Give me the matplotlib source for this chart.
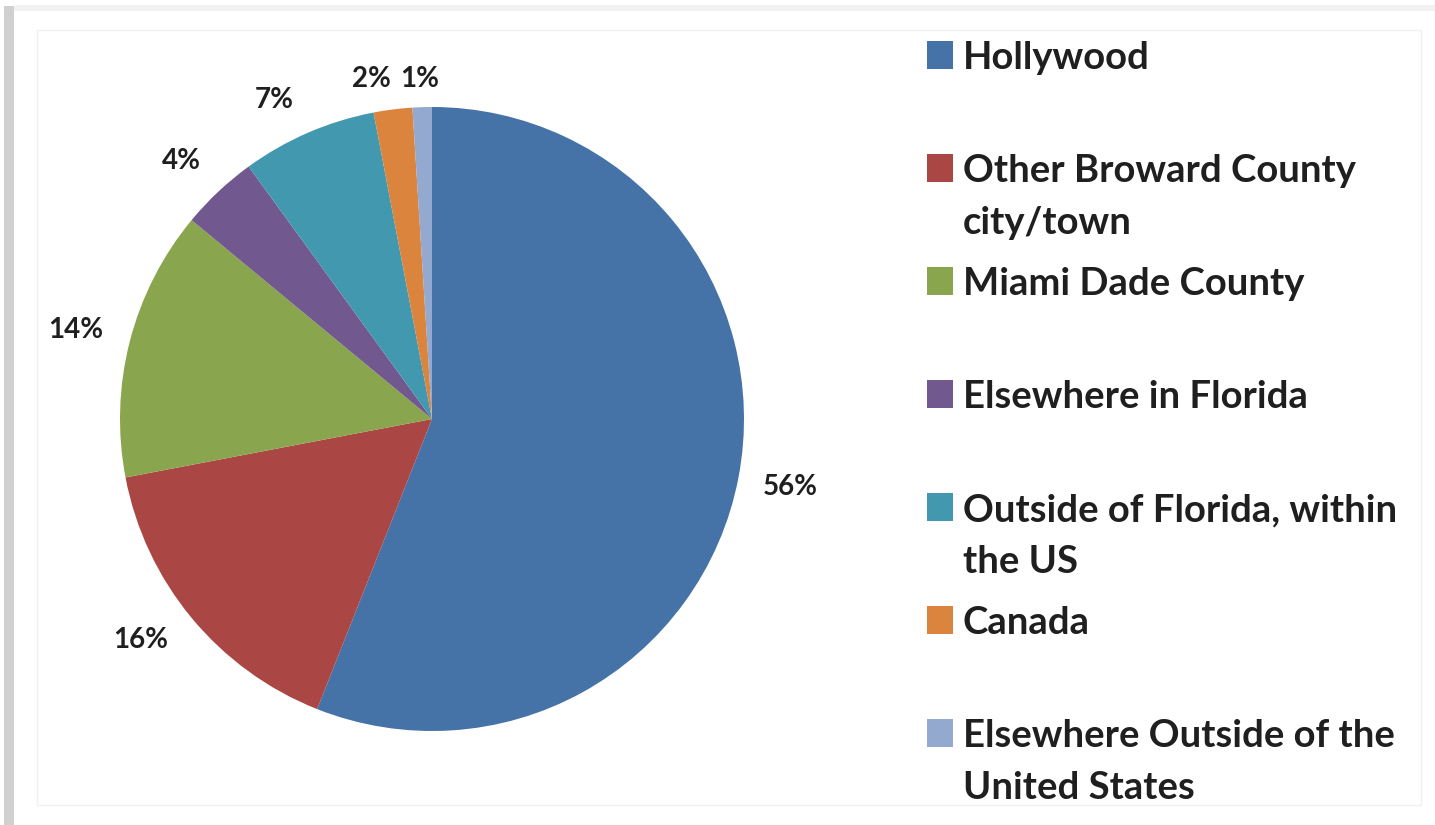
import matplotlib
matplotlib.use("Agg")
import matplotlib.pyplot as plt
from matplotlib.patches import Rectangle
import numpy as np

categories = ["Hollywood", "Other Broward County\ncity/town", "Miami Dade County",
              "Elsewhere in Florida", "Outside of Florida, within\nthe US", "Canada",
              "Elsewhere Outside of the\nUnited States"]
values = [56, 16, 14, 4, 7, 2, 1]
colors = ["#4572A7", "#AA4643", "#89A54E", "#71588F", "#4198AF", "#DB843D", "#93A9CF"]
label_dist = [1.17, 1.18, 1.18, 1.16, 1.15, 1.10, 1.09]
label_shift = [(0, 0), (-8, 14), (0, -3), (-3, -6), (-15, -10), (-18, 0), (-2, 0)]

W, H = 1435, 825
fig = plt.figure(figsize=(W / 100, H / 100), dpi=100)
fig.patch.set_facecolor("white")
font = "Lato"

# frame decoration
fig.add_artist(Rectangle((4 / W, 0), 10 / W, 1 - 6 / H, transform=fig.transFigure,
                         facecolor="#d0d0d0", edgecolor="none"))
fig.add_artist(Rectangle((14 / W, 1 - 11 / H), 1 - 14 / W, 6 / H, transform=fig.transFigure,
                         facecolor="#f2f2f2", edgecolor="none"))
fig.add_artist(Rectangle((37 / W, 20 / H), (1421 - 37) / W, (795 - 20) / H, transform=fig.transFigure,
                         facecolor="none", edgecolor="#f0f0f0", lw=1))

cx, cy, r = 432, 419, 312
ax = fig.add_axes([(cx - r) / W, (H - cy - r) / H, 2 * r / W, 2 * r / H])
wedges, _ = ax.pie(values, colors=colors, startangle=90, counterclock=False,
                   wedgeprops=dict(linewidth=0))
ax.set_xlim(-1, 1)
ax.set_ylim(-1, 1)
ax.set_aspect("equal")
ax.axis("off")

for w, v, d, s in zip(wedges, values, label_dist, label_shift):
    ang = np.deg2rad((w.theta1 + w.theta2) / 2)
    ax.annotate(f"{v}%", (d * np.cos(ang), d * np.sin(ang)), xytext=(s[0] * 0.72, s[1] * 0.72),
                textcoords="offset points", ha="center", va="center",
                fontsize=20, family=font, fontweight="bold", color="#1f1f1f",
                annotation_clip=False)

# legend
y0 = 55
step = 113
for i, (lab, c) in enumerate(zip(categories, colors)):
    y = y0 + i * step
    fig.add_artist(Rectangle((927 / W, 1 - (y + 14) / H), 26 / W, 28 / H,
                             transform=fig.transFigure, facecolor=c, edgecolor="none"))
    fig.text(963 / W, 1 - (y - 14) / H, lab, ha="left", va="top", fontsize=27.5,
             family=font, fontweight="bold", color="#1f1f1f", linespacing=1.64)

fig.savefig("out.png", dpi=100, facecolor="white")
